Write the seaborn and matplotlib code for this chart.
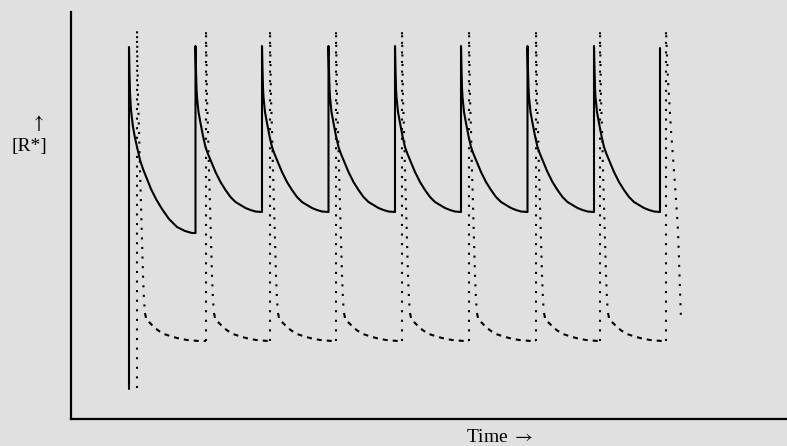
import matplotlib
matplotlib.use("Agg")
import matplotlib.pyplot as plt
import seaborn as sns
import pandas as pd

# ---------------- data (time and [R*] in plot units) ----
# solid curve: times of the jumps, and the decay shapes after a jump
solid_starts = [129, 195.5, 262, 328.5, 395, 461, 527.5, 594]
solid_last_jump = 660
solid_initial = 30
solid_last_peak = 371
solid_first_dx = [0, 0.5, 1, 2, 4, 6, 8, 11, 14, 18, 22, 27, 33, 40, 48, 56, 63, 66]
solid_first_R = [372, 344, 326, 309, 292, 281, 272, 259, 250, 240, 230, 220, 210, 200, 192, 188, 186, 186]
solid_dx = [0, 0.5, 1, 1.5, 3, 5, 7.5, 10, 12.5, 15, 20, 25, 30, 35, 40, 45, 50, 55, 60, 66]
solid_R = [373, 349, 331, 322, 307, 296, 283, 272, 265, 259, 247, 237, 229, 222, 217, 214, 211, 209, 207.5, 207]

# dotted curve
dotted_starts = [137, 206, 270, 336, 402, 469, 536, 600]
dotted_last_jump = 666
dotted_initial = 31
dotted_dx = [0, 1, 2, 3, 4, 5, 6, 7, 8, 9, 10, 12, 15, 18, 22, 27, 33, 40, 50, 62]
dotted_R = [389, 322, 289, 249, 214, 179, 144, 119, 106, 101, 99, 97, 94, 91, 88, 85, 83, 81, 79, 78]
dotted_last_dx = [0, 2, 5, 9, 12, 15]
dotted_last_R = [389, 339, 289, 234, 189, 99]
dotted_fast_until = 8   # part of each fall drawn dotted, rest dashed

x_label = "Time $\\rightarrow$"
y_label = "[R*]"
y_arrow = "$\\uparrow$"

# ---------------- build table ----------------
rows = []
seg = 0

# solid
pts = [(solid_starts[0], solid_initial)]
for i, s in enumerate(solid_starts):
    n = solid_starts[i + 1] if i + 1 < len(solid_starts) else solid_last_jump
    dxs, rs = (solid_first_dx, solid_first_R) if i == 0 else (solid_dx, solid_R)
    for dx, r in zip(dxs, rs):
        if s + dx < n:
            pts.append((s + dx, r))
    pts.append((n, rs[-1]))
pts.append((solid_last_jump, solid_last_peak))
for t, r in pts:
    rows.append(dict(t=t, R=r, seg=seg, kind="solid"))
seg += 1

# dotted
prev = (dotted_starts[0], dotted_initial)
for i, s in enumerate(dotted_starts):
    n = dotted_starts[i + 1] if i + 1 < len(dotted_starts) else dotted_last_jump
    fast = [prev]
    slow = []
    for dx, r in zip(dotted_dx, dotted_R):
        if s + dx < n:
            if dx <= dotted_fast_until:
                fast.append((s + dx, r))
            if dx >= dotted_fast_until:
                slow.append((s + dx, r))
    slow.append((n, dotted_R[-1]))
    for t, r in fast:
        rows.append(dict(t=t, R=r, seg=seg, kind="dotted"))
    seg += 1
    for t, r in slow:
        rows.append(dict(t=t, R=r, seg=seg, kind="dashed"))
    seg += 1
    prev = (n, dotted_R[-1])
fast = [prev] + [(dotted_last_jump + dx, r) for dx, r in zip(dotted_last_dx, dotted_last_R)]
for t, r in fast:
    rows.append(dict(t=t, R=r, seg=seg, kind="dotted"))
seg += 1

df = pd.DataFrame(rows)

# ---------------- plot ----------------
bg = "#e0e0e0"
sns.set_theme(style="white", rc={"figure.facecolor": bg, "axes.facecolor": bg,
                                 "axes.edgecolor": "black", "text.color": "black"})
plt.rcParams["font.family"] = ["Liberation Serif", "DejaVu Serif"]
plt.rcParams["mathtext.fontset"] = "stix"

fig = plt.figure(figsize=(7.87, 4.46), dpi=100)
ax = fig.add_axes([71 / 787, 27 / 446, 1 - 71 / 787, (419 - 12) / 446])

sns.lineplot(data=df, x="t", y="R", units="seg", style="kind", estimator=None,
             sort=False, color="black", linewidth=1.5, legend=False, ax=ax,
             dashes={"solid": "", "dotted": (1, 3.6), "dashed": (2.4, 2.4)})

ax.set_xlim(71, 787)
ax.set_ylim(0, 407)
ax.set_xticks([])
ax.set_yticks([])
ax.set_xlabel("")
ax.set_ylabel("")
for side in ["top", "right"]:
    ax.spines[side].set_visible(False)
for side in ["left", "bottom"]:
    ax.spines[side].set_linewidth(1.6)
    ax.spines[side].set_color("black")

fig.text(38 / 787, 1 - 123 / 446, y_arrow, ha="center", va="center", fontsize=14, color="black")
fig.text(29 / 787, 1 - 147 / 446, y_label, ha="center", va="center", fontsize=14, color="black")
fig.text(500 / 787, 1 - 437 / 446, x_label, ha="center", va="center", fontsize=14, color="black")

fig.savefig("out.png", dpi=100, facecolor=bg)
